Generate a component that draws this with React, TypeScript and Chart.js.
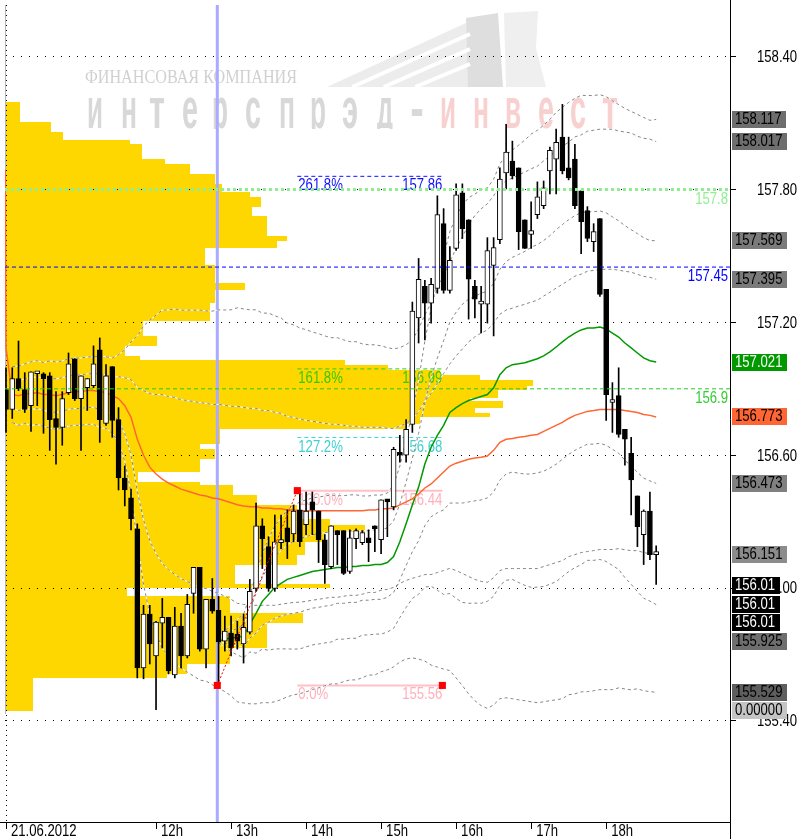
import React, { useEffect, useRef } from "react";
import { Chart, registerables } from "chart.js";

Chart.register(...registerables);

// ---------------- data ----------------
const hourTickIdx = [0, 24, 36, 48, 60, 72, 84, 96];
const hourLabels = ["21.06.2012", "12h", "13h", "14h", "15h", "16h", "17h", "18h"];
const priceTicks = [155.4, 156.0, 156.6, 157.2, 157.8, 158.4];

const opens = [
  156.896, 156.807, 156.946, 156.896, 156.824, 156.968, 156.968, 156.959, 156.766, 156.726,
  156.883, 157.036, 156.856, 156.905, 156.914, 157.076, 156.744, 157.0, 156.761, 156.497,
  156.407, 156.268, 155.639, 155.882, 155.693, 155.841, 155.868, 155.608, 155.828, 155.693,
  155.976, 156.093, 155.724, 155.949, 155.899, 155.76, 155.796, 155.792, 155.747, 155.801,
  155.998, 156.281, 156.187, 155.998, 156.205, 156.272, 156.245, 156.353, 156.286, 156.389,
  156.348, 156.218, 156.097, 156.259, 156.259, 156.075, 156.223, 156.205, 156.227, 156.281,
  156.218, 156.398, 156.366, 156.613, 156.6, 156.739, 157.22, 157.363, 157.287, 157.354,
  157.646, 157.345, 157.534, 157.785, 157.664, 157.363, 157.282, 157.282, 157.458, 157.574,
  157.875, 157.929, 157.898, 157.664, 157.597, 157.687, 157.727, 157.884, 157.938, 158.037,
  157.898, 157.938, 157.794, 157.705, 157.565, 157.669, 157.35, 156.838, 156.869, 156.717,
  156.609, 156.416, 156.241, 156.348, 156.151,
];
const highs = [
  156.995, 156.995, 157.116, 156.973, 156.977, 156.977, 156.973, 156.973, 156.887, 156.887,
  157.062, 157.036, 156.959, 156.946, 157.094, 157.13, 157.009, 157.0, 156.815, 156.551,
  156.447, 156.29, 155.922, 155.922, 155.85, 155.953, 155.868, 155.913, 155.886, 155.971,
  156.093, 156.093, 155.949, 156.043, 155.962, 155.873, 155.873, 155.85, 155.882, 156.039,
  156.384, 156.313, 156.232, 156.33, 156.33, 156.353, 156.375, 156.443, 156.434, 156.434,
  156.348, 156.241, 156.281, 156.259, 156.259, 156.263, 156.268, 156.259, 156.263, 156.281,
  156.398, 156.398, 156.636, 156.69, 156.761, 157.292, 157.489, 157.39, 157.399, 157.772,
  157.714, 157.543, 157.826, 157.826, 157.664, 157.39, 157.363, 157.583, 157.583, 157.898,
  158.095, 158.019, 157.898, 157.664, 157.745, 157.835, 157.839, 157.992, 158.073, 158.185,
  158.037, 158.005, 157.794, 157.723, 157.646, 157.669, 157.35, 156.928, 156.995, 156.717,
  156.681, 156.416, 156.353, 156.434, 156.191,
];
const lows = [
  156.703, 156.766, 156.892, 156.793, 156.708, 156.824, 156.699, 156.622, 156.56, 156.645,
  156.874, 156.847, 156.622, 156.802, 156.905, 156.658, 156.735, 156.681, 156.443, 156.371,
  156.263, 155.594, 155.59, 155.657, 155.45, 155.729, 155.612, 155.594, 155.639, 155.684,
  155.886, 155.715, 155.639, 155.886, 155.563, 155.715, 155.693, 155.724, 155.661, 155.792,
  155.985, 156.088, 155.985, 155.985, 156.178, 156.133, 156.209, 156.187, 156.241, 156.241,
  156.115, 156.021, 156.088, 156.106, 156.061, 156.066, 156.178, 156.196, 156.119, 156.164,
  156.155, 156.232, 156.353, 156.569, 156.569, 156.703, 157.107, 157.121, 157.197, 157.332,
  157.332, 157.332, 157.525, 157.579, 157.215, 157.22, 157.152, 157.197, 157.139, 157.556,
  157.803, 157.848, 157.529, 157.534, 157.534, 157.669, 157.714, 157.781, 157.781, 157.871,
  157.844, 157.714, 157.511, 157.565, 157.52, 157.318, 156.757, 156.703, 156.681, 156.555,
  156.33, 156.187, 156.106, 156.128, 156.016,
];
const closes = [
  156.807, 156.946, 156.901, 156.807, 156.977, 156.977, 156.946, 156.761, 156.726, 156.856,
  157.013, 156.856, 156.959, 156.946, 157.013, 156.761, 156.959, 156.757, 156.497, 156.443,
  156.313, 155.639, 155.882, 155.747, 155.846, 155.868, 155.626, 155.828, 155.693, 155.926,
  156.093, 155.724, 155.949, 155.895, 155.756, 155.805, 155.729, 155.76, 155.823, 155.985,
  156.281, 156.223, 155.998, 156.209, 156.218, 156.209, 156.348, 156.209, 156.348, 156.353,
  156.218, 156.106, 156.281, 156.241, 156.066, 156.227, 156.259, 156.25, 156.205, 156.268,
  156.398, 156.389, 156.627, 156.6, 156.717, 157.251, 157.395, 157.287, 157.372, 157.687,
  157.345, 157.48, 157.776, 157.624, 157.395, 157.305, 157.296, 157.525, 157.538, 157.848,
  157.969, 157.862, 157.61, 157.534, 157.615, 157.767, 157.808, 157.978, 158.014, 157.884,
  157.853, 157.727, 157.655, 157.579, 157.61, 157.327, 156.874, 156.847, 156.694, 156.672,
  156.488, 156.277, 156.348, 156.151, 156.164,
];

// session average (orange) and its deviation
const orangeLead = 157.89;
const orangeMA = [
  157.085, 156.874, 156.869, 156.878, 156.878, 156.883, 156.874, 156.874, 156.869, 156.874,
  156.883, 156.887, 156.887, 156.892, 156.892, 156.887, 156.883, 156.869, 156.856, 156.824,
  156.771, 156.672, 156.6, 156.546, 156.515, 156.492, 156.474, 156.461, 156.447, 156.438,
  156.429, 156.42, 156.416, 156.407, 156.403, 156.394, 156.385, 156.376, 156.371, 156.367,
  156.367, 156.362, 156.362, 156.358, 156.358, 156.353, 156.353, 156.349, 156.349, 156.349,
  156.349, 156.349, 156.349, 156.349, 156.349, 156.349, 156.349, 156.349, 156.353, 156.353,
  156.358, 156.358, 156.362, 156.376, 156.389, 156.403, 156.425, 156.452, 156.47, 156.497,
  156.524, 156.551, 156.564, 156.573, 156.582, 156.587, 156.591, 156.596, 156.622, 156.658,
  156.672, 156.676, 156.681, 156.685, 156.69, 156.694, 156.708, 156.721, 156.735, 156.748,
  156.766, 156.78, 156.789, 156.798, 156.802, 156.807, 156.807, 156.807, 156.807, 156.802,
  156.798, 156.793, 156.784, 156.78, 156.773,
];
const sigmaO = [
  null, 0.063, 0.067, 0.067, 0.072, 0.072, 0.072, 0.076, 0.076, 0.076,
  0.076, 0.076, 0.076, 0.076, 0.076, 0.081, 0.081, 0.085, 0.099, 0.126,
  0.171, 0.233, 0.292, 0.332, 0.359, 0.382, 0.391, 0.4, 0.404, 0.409,
  0.413, 0.418, 0.418, 0.422, 0.427, 0.431, 0.436, 0.445, 0.445, 0.445,
  0.445, 0.44, 0.44, 0.436, 0.431, 0.422, 0.418, 0.413, 0.409, 0.404,
  0.4, 0.395, 0.391, 0.391, 0.386, 0.382, 0.382, 0.377, 0.373, 0.373,
  0.368, 0.364, 0.359, 0.355, 0.355, 0.359, 0.373, 0.391, 0.409, 0.427,
  0.445, 0.462, 0.485, 0.507, 0.53, 0.548, 0.561, 0.57, 0.575, 0.579,
  0.584, 0.588, 0.593, 0.597, 0.602, 0.606, 0.611, 0.615, 0.62, 0.624,
  0.624, 0.629, 0.629, 0.633, 0.633, 0.633, 0.633, 0.633, 0.629, 0.629,
  0.629, 0.624, 0.624, 0.624, 0.622,
];

// anchored average from the low (green) and its deviation
const greenStart = 34;
const greenMA = [
  155.76, 155.769, 155.774, 155.778, 155.783, 155.837, 155.886, 155.94, 155.971, 156.003,
  156.021, 156.039, 156.048, 156.057, 156.066, 156.075, 156.079, 156.084, 156.088, 156.093,
  156.093, 156.097, 156.097, 156.102, 156.102, 156.106, 156.106, 156.115, 156.142, 156.209,
  156.29, 156.375, 156.456, 156.56, 156.636, 156.69, 156.735, 156.793, 156.815, 156.833,
  156.847, 156.856, 156.865, 156.874, 156.905, 156.964, 156.995, 157.009, 157.013, 157.018,
  157.027, 157.036, 157.049, 157.067, 157.089, 157.112, 157.134, 157.152, 157.166, 157.175,
  157.175, 157.179, 157.17, 157.152, 157.134, 157.107, 157.085, 157.062, 157.04, 157.027,
  157.021,
];
const sigmaG = [
  0.004, 0.018, 0.031, 0.04, 0.049, 0.063, 0.09, 0.108, 0.126, 0.139,
  0.148, 0.157, 0.162, 0.166, 0.166, 0.166, 0.166, 0.166, 0.166, 0.162,
  0.162, 0.162, 0.162, 0.157, 0.157, 0.157, 0.157, 0.157, 0.162, 0.171,
  0.189, 0.211, 0.242, 0.278, 0.314, 0.35, 0.382, 0.409, 0.431, 0.449,
  0.458, 0.462, 0.467, 0.467, 0.471, 0.476, 0.48, 0.485, 0.494, 0.503,
  0.512, 0.516, 0.521, 0.525, 0.53, 0.53, 0.53, 0.53, 0.53, 0.525,
  0.525, 0.525, 0.525, 0.525, 0.525, 0.53, 0.534, 0.539, 0.543, 0.543,
  0.548,
];

// volume profile: segment top price and volume, last segment ends at profBottom
const profTop = [
  158.194, 158.104, 158.059, 158.023, 158.005, 157.938, 157.916, 157.871, 157.826, 157.79,
  157.767, 157.723, 157.682, 157.592, 157.57, 157.534, 157.458, 157.377, 157.345, 157.287,
  157.206, 157.139, 157.094, 157.049, 157.031, 157.009, 156.986, 156.964, 156.941, 156.914,
  156.896, 156.86, 156.847, 156.815, 156.793, 156.771, 156.739, 156.717, 156.649, 156.627,
  156.582, 156.524, 156.479, 156.465, 156.421, 156.376, 156.313, 156.286, 156.254, 156.209,
  156.151, 156.106, 156.016, 155.998, 155.962, 155.886, 155.841, 155.729, 155.657, 155.612,
  155.594,
];
const profVol = [
  15, 46, 58, 125, 137, 160, 185, 210, 217, 245,
  256, 247, 262, 282, 272, 200, 210, 240, 210, 205,
  138, 152, 120, 135, 340, 383, 435, 475, 528, 522,
  493, 465, 498, 470, 485, 415, 400, 215, 195, 210,
  195, 133, 195, 228, 252, 292, 325, 360, 320, 300,
  292, 230, 325, 122, 225, 298, 262, 225, 182, 162,
  28,
];
const profBottom = 155.446;

// fibonacci tool
const fibRatioLabels = ["0.0%", "100.0%", "127.2%", "161.8%", "261.8%"];
const fibPrices = [155.56, 156.44, 156.68, 156.99, 157.86];
const fibValueLabels = ["155.56", "156.44", "156.68", "156.99", "157.86"];

// horizontal levels across the chart
const levelPrices = [157.8, 157.45, 156.9];
const levelLabels = ["157.8", "157.45", "156.9"];

// price markers on the right axis
const markerTexts = ["158.117", "158.017", "157.569", "157.395", "157.021", "156.773", "156.473", "156.151", "156.01", "156.01", "156.01", "155.925", "155.529", "0.00000"];
const markerPrices = [158.117, 158.017, 157.569, 157.395, 157.021, 156.773, 156.473, 156.151, 156.01, 156.01, 156.01, 155.925, 155.529, null];

// ---------------- layout / style ----------------
const X_MIN = -0.16;
const X_MAX = 115.81;
const Y_MIN = 154.943;
const Y_MAX = 158.634;
const FIB_X0 = 33.8;
const FIB_X1 = 46.6;
const FIB_X2 = 69.8;
const ORANGE_LEAD_X = -0.12;
const FONT = "'Liberation Sans', Arial, sans-serif";
const SX = 0.82; // horizontal squeeze to mimic a narrow face
const TXT = `16px ${FONT}`;

const fibLineColors = ["#ffc0c8", "#ffc0c8", "#40d8d0", "#33cc00", "#1010ff"];
const fibTextColors = ["#ffb0bb", "#ffb0bb", "#40d0d0", "#33cc00", "#1010ff"];
const fibWidths = [2, 2, 1, 1, 1];
const fibDash = [[], [], [4, 3], [4, 3], [4, 3]];
const levelColors = ["#90ee90", "#0000ff", "#22cc22"];
const levelTextColors = ["#90ee90", "#0000ff", "#33cc33"];
const levelWidths = [3, 1, 1];
const levelDash = [[3, 3], [4, 3], [4, 3]];
const markerBg = ["#6e6e6e", "#6e6e6e", "#7a7a7a", "#7a7a7a", "#009900", "#ff6633", "#808080", "#8c8c8c", "#000000", "#000000", "#000000", "#6e6e6e", "#5e5e5e", "#c4c4c4"];
const markerFg = ["#000", "#000", "#000", "#000", "#fff", "#000", "#000", "#000", "#fff", "#fff", "#fff", "#000", "#000", "#000"];

function sText(ctx: CanvasRenderingContext2D, s: string, x: number, y: number, align: CanvasTextAlign) {
  ctx.save();
  ctx.translate(x, y);
  ctx.scale(SX, 1);
  ctx.textAlign = align;
  ctx.fillText(s, 0, 0);
  ctx.restore();
}

function drawWatermark(ctx: CanvasRenderingContext2D) {
  ctx.save();
  // logo stripes
  ctx.fillStyle = "#ececec";
  ctx.beginPath();
  ctx.moveTo(327, 87);
  ctx.lineTo(468, 22);
  ctx.lineTo(468, 87);
  ctx.closePath();
  ctx.fill();
  ctx.fillStyle = "#dedede";
  ctx.beginPath();
  ctx.moveTo(466, 18);
  ctx.lineTo(498, 13);
  ctx.lineTo(503, 87);
  ctx.lineTo(468, 87);
  ctx.closePath();
  ctx.fill();
  ctx.fillStyle = "#efefef";
  ctx.beginPath();
  ctx.moveTo(504, 13);
  ctx.lineTo(538, 11);
  ctx.lineTo(536, 48);
  ctx.lineTo(546, 87);
  ctx.lineTo(506, 87);
  ctx.closePath();
  ctx.fill();
  ctx.strokeStyle = "#ffffff";
  ctx.lineWidth = 4;
  [12, 27, 42].forEach((d) => {
    ctx.beginPath();
    ctx.moveTo(327 + d * 2.1, 87);
    ctx.lineTo(470, 22 + d);
    ctx.stroke();
  });
  // company line
  ctx.fillStyle = "#d0d0d0";
  ctx.font = "19px 'Liberation Serif', serif";
  ctx.textBaseline = "alphabetic";
  ctx.textAlign = "left";
  ctx.fillText("ФИНАНСОВАЯ КОМПАНИЯ", 85, 83, 212);
  // big name
  const name = "интерспрэд-инвест";
  const centers = [95, 129, 157, 190, 220, 253, 287, 318, 350, 385, 417, 448, 481, 513, 546, 578, 610];
  ctx.beginPath();
  ctx.rect(60, 60, 600, 69);
  ctx.clip();
  ctx.font = `bold 58px ${FONT}`;
  ctx.textAlign = "center";
  for (let i = 0; i < name.length; i++) {
    const ch = name[i];
    const w = ctx.measureText(ch).width || 1;
    const sx = ch === "-" ? 0.7 : Math.min(1, 16 / w);
    ctx.save();
    ctx.translate(centers[i], 128);
    ctx.scale(sx, 1);
    ctx.fillStyle = i < 11 ? "#d8d8d8" : "#f8d0d0";
    ctx.fillText(ch, 0, 0);
    ctx.restore();
  }
  ctx.restore();
}

const decorPlugin = {
  id: "decor",
  beforeDraw(chart: any) {
    const { ctx, chartArea } = chart;
    const ys = chart.scales.y;
    const pv = chart.scales.pv;
    drawWatermark(ctx);
    ctx.save();
    ctx.fillStyle = "#ffd700";
    const left = chartArea.left;
    for (let k = 0; k < profTop.length; k++) {
      const yTop = Math.round(ys.getPixelForValue(profTop[k]));
      const yBot = Math.round(ys.getPixelForValue(k + 1 < profTop.length ? profTop[k + 1] : profBottom));
      const xr = Math.round(pv.getPixelForValue(profVol[k]));
      ctx.fillRect(left, yTop, xr - left, yBot - yTop);
    }
    ctx.restore();
  },
  beforeDatasetsDraw(chart: any) {
    const { ctx, chartArea } = chart;
    const xs = chart.scales.x;
    const ys = chart.scales.y;
    ctx.save();
    ctx.strokeStyle = "#b4b4b4";
    ctx.lineWidth = 1;
    ctx.beginPath();
    ctx.moveTo(chartArea.left + 0.5, chartArea.top);
    ctx.lineTo(chartArea.left + 0.5, Math.round(ys.getPixelForValue(profBottom)) + 3);
    ctx.stroke();
    ctx.strokeStyle = "#aaaaff";
    ctx.lineWidth = 3;
    const bx = xs.getPixelForValue(FIB_X0);
    ctx.beginPath();
    ctx.moveTo(bx, chartArea.top);
    ctx.lineTo(bx, chartArea.bottom);
    ctx.stroke();
    ctx.font = TXT;
    ctx.textBaseline = "alphabetic";
    const x1 = xs.getPixelForValue(FIB_X1);
    const x2 = xs.getPixelForValue(FIB_X2);
    for (let i = 0; i < fibPrices.length; i++) {
      const yy = ys.getPixelForValue(fibPrices[i]);
      ctx.fillStyle = fibTextColors[i];
      sText(ctx, fibRatioLabels[i], x1 + 1, yy + 14, "left");
      sText(ctx, fibValueLabels[i], x2, yy + 14, "right");
    }
    ctx.restore();
  },
  afterDatasetsDraw(chart: any) {
    const { ctx, chartArea } = chart;
    const ys = chart.scales.y;
    ctx.save();
    ctx.font = TXT;
    ctx.textBaseline = "alphabetic";
    for (let i = 0; i < levelPrices.length; i++) {
      const yy = ys.getPixelForValue(levelPrices[i]);
      ctx.fillStyle = levelTextColors[i];
      sText(ctx, levelLabels[i], chartArea.right - 2, yy + 14, "right");
    }
    ctx.restore();
  },
  afterDraw(chart: any) {
    const { ctx, chartArea } = chart;
    const xs = chart.scales.x;
    const ys = chart.scales.y;
    ctx.save();
    ctx.strokeStyle = "#000";
    ctx.lineWidth = 1;
    ctx.beginPath();
    ctx.moveTo(chartArea.right + 0.5, 0);
    ctx.lineTo(chartArea.right + 0.5, chart.height);
    ctx.moveTo(0, chartArea.bottom + 0.5);
    ctx.lineTo(chartArea.right, chartArea.bottom + 0.5);
    ctx.stroke();
    // axis labels
    ctx.font = TXT;
    ctx.fillStyle = "#000";
    ctx.textBaseline = "middle";
    priceTicks.forEach((v) => {
      sText(ctx, v.toFixed(2), chartArea.right + 27, ys.getPixelForValue(v) + 1, "left");
    });
    hourTickIdx.forEach((v, k) => {
      sText(ctx, hourLabels[k], xs.getPixelForValue(v) + 5, chartArea.bottom + 10, "left");
    });
    // right markers
    let prevBottom = -1e9;
    for (let i = 0; i < markerTexts.length; i++) {
      const p = markerPrices[i];
      let top = p == null ? prevBottom + 1.5 : ys.getPixelForValue(p) - 8.5;
      if (top < prevBottom + 1.5) top = prevBottom + 1.5;
      const t = Math.round(top);
      const w = Math.round(ctx.measureText(markerTexts[i]).width * SX + 8);
      ctx.fillStyle = markerBg[i];
      ctx.fillRect(chartArea.right + 2, t, w, 17);
      ctx.fillStyle = markerFg[i];
      sText(ctx, markerTexts[i], chartArea.right + 5, t + 9, "left");
      prevBottom = top + 17;
    }
    ctx.restore();
  },
};

function buildConfig(): any {
  const bodies = {
    type: "bar",
    label: "body",
    data: opens.map((o, i) => ({ x: i, y: [o, closes[i]] })),
    backgroundColor: opens.map((o, i) => (closes[i] > o ? "#ffffff" : "#000000")),
    borderColor: "#000000",
    borderWidth: 1,
    borderSkipped: false,
    barThickness: 5,
    minBarLength: 3,
    grouped: false,
    order: 0,
  };
  const wicks = {
    type: "bar",
    label: "wick",
    data: lows.map((l, i) => ({ x: i, y: [l, highs[i]] })),
    backgroundColor: "#000000",
    borderWidth: 0,
    barThickness: 1,
    grouped: false,
    order: 1,
  };
  const lineBase = { type: "line", pointRadius: 0, fill: false, tension: 0 };
  const orange = {
    ...lineBase,
    label: "orange",
    data: [{ x: ORANGE_LEAD_X, y: orangeLead }, ...orangeMA.map((v, i) => ({ x: i, y: v }))],
    borderColor: "#ff6633",
    borderWidth: 1.5,
    order: 2,
  };
  const green = {
    ...lineBase,
    label: "green",
    data: greenMA.map((v, k) => ({ x: greenStart + k, y: v })),
    borderColor: "#009900",
    borderWidth: 1.5,
    order: 2,
  };
  const bands: any[] = [];
  [1, 2].forEach((k) =>
    [-1, 1].forEach((sg) => {
      const od = orangeMA
        .map((m, i) => (sigmaO[i] == null ? null : { x: i, y: m + sg * k * (sigmaO[i] as number) }))
        .filter((d) => d !== null);
      const gd = greenMA.map((m, j) => ({ x: greenStart + j, y: m + sg * k * sigmaG[j] }));
      [od, gd].forEach((d) => {
        bands.push({ ...lineBase, label: "band-bg", data: d, borderColor: "#ffffff", borderWidth: 1, order: 4 });
        bands.push({ ...lineBase, label: "band", data: d, borderColor: "#858585", borderWidth: 1, borderDash: [3, 3], order: 3 });
      });
    })
  );
  const fibLines = fibPrices.map((p, i) => ({
    ...lineBase,
    label: "fib" + i,
    data: [{ x: FIB_X1, y: p }, { x: FIB_X2, y: p }],
    borderColor: fibLineColors[i],
    borderWidth: fibWidths[i],
    borderDash: fibDash[i],
    order: 5,
  }));
  const levels = levelPrices.map((p, i) => ({
    ...lineBase,
    label: "level" + i,
    data: [{ x: X_MIN, y: p }, { x: X_MAX, y: p }],
    borderColor: levelColors[i],
    borderWidth: levelWidths[i],
    borderDash: levelDash[i],
    order: -2,
  }));
  const trend = {
    ...lineBase,
    label: "trend",
    data: [{ x: FIB_X0, y: fibPrices[0] }, { x: FIB_X1, y: fibPrices[1] }],
    borderColor: "#ff0000",
    borderWidth: 1,
    borderDash: [2, 2],
    pointRadius: 5,
    pointStyle: "rect",
    pointBackgroundColor: "#ff0000",
    pointBorderColor: "#ff0000",
    pointBorderWidth: 0,
    order: -3,
  };
  const endPoint = {
    ...lineBase,
    label: "fibEnd",
    data: [{ x: FIB_X2, y: fibPrices[0] }],
    showLine: false,
    pointRadius: 5,
    pointStyle: "rect",
    pointBackgroundColor: "#ff0000",
    pointBorderColor: "#ff0000",
    pointBorderWidth: 0,
    order: -3,
  };

  return {
    type: "line",
    data: { datasets: [trend, endPoint, ...levels, bodies, wicks, orange, green, ...bands, ...fibLines] },
    options: {
      responsive: false,
      devicePixelRatio: 1,
      animation: false,
      events: [],
      layout: { padding: { left: 4, right: 0, top: 0, bottom: 0 } },
      plugins: { legend: { display: false }, tooltip: { enabled: false } },
      scales: {
        x: {
          type: "linear",
          position: "bottom",
          min: X_MIN,
          max: X_MAX,
          offset: false,
          afterBuildTicks: (s: any) => {
            s.ticks = hourTickIdx.map((v) => ({ value: v }));
          },
          afterFit: (s: any) => {
            s.height = 17;
            s.paddingLeft = 0;
            s.paddingRight = 0;
            s.paddingTop = 0;
            s.paddingBottom = 0;
          },
          ticks: { display: false, autoSkip: false, maxRotation: 0 },
          grid: {
            offset: false,
            drawOnChartArea: true,
            drawTicks: true,
            tickLength: 7,
            lineWidth: 1,
            color: (c: any) => (c.tick && c.tick.value === 0 ? "#000" : "rgba(0,0,0,0)"),
            tickColor: "#000",
          },
          border: { display: false, dash: [1, 4] },
        },
        y: {
          type: "linear",
          position: "right",
          min: Y_MIN,
          max: Y_MAX,
          afterBuildTicks: (s: any) => {
            s.ticks = priceTicks.map((v) => ({ value: v }));
          },
          afterFit: (s: any) => {
            s.width = 70;
            s.paddingTop = 0;
            s.paddingBottom = 0;
            s.paddingLeft = 0;
            s.paddingRight = 0;
          },
          ticks: { display: false },
          grid: { color: "#000", lineWidth: 1, drawTicks: true, tickLength: 6, tickColor: "#000" },
          border: { display: false, dash: [1, 7] },
        },
        pv: { type: "linear", axis: "x", display: false, min: 0, max: 725 },
      },
    },
    plugins: [decorPlugin],
  };
}

export default function App() {
  const ref = useRef<HTMLCanvasElement | null>(null);
  useEffect(() => {
    const canvas = ref.current;
    if (!canvas) return;
    const chart = new Chart(canvas, buildConfig());
    return () => chart.destroy();
  }, []);
  return (
    <div style={{ position: "absolute", left: 0, top: 0, width: 800, height: 839, background: "#fff" }}>
      <canvas ref={ref} width={800} height={839} style={{ display: "block", width: 800, height: 839 }} />
    </div>
  );
}
